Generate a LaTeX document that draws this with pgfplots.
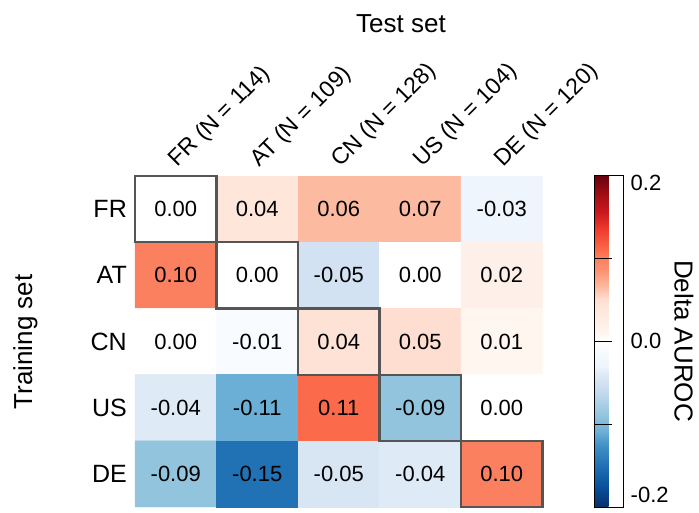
\documentclass[border=0pt]{standalone}
\usepackage{fontspec}
\setmainfont{Liberation Sans}
\usepackage{pgfplots}
\pgfplotsset{compat=1.18}
\usepackage{pgfplotstable}

% colour value of each cell (x = test set, y = training set)
\pgfplotstableread{
x y c
0 0 0
1 0 0.04
2 0 0.065
3 0 0.065
4 0 -0.03
0 1 0.10
1 1 0
2 1 -0.05
3 1 0
4 1 0.02
0 2 0
1 2 -0.01
2 2 0.045
3 2 0.05
4 2 0.01
0 3 -0.04
1 3 -0.11
2 3 0.11
3 3 -0.09
4 3 0
0 4 -0.09
1 4 -0.15
2 4 -0.045
3 4 -0.04
4 4 0.10
}\cells

\pgfplotstableread{
x y lab
0 0 0.00
1 0 0.04
2 0 0.06
3 0 0.07
4 0 -0.03
0 1 0.10
1 1 0.00
2 1 -0.05
3 1 0.00
4 1 0.02
0 2 0.00
1 2 -0.01
2 2 0.04
3 2 0.05
4 2 0.01
0 3 -0.04
1 3 -0.11
2 3 0.11
3 3 -0.09
4 3 0.00
0 4 -0.09
1 4 -0.15
2 4 -0.05
3 4 -0.04
4 4 0.10
}\labels

\begin{document}
\begin{tikzpicture}
\useasboundingbox (0,0) rectangle (699bp,513bp);
\begin{axis}[
  at={(135bp,6bp)}, anchor=south west,
  scale only axis, width=407.5bp, height=331bp,
  xmin=-0.5, xmax=4.5, ymin=-0.5, ymax=4.5, y dir=reverse,
  axis line style={draw=none},
  major tick length=0pt,
  xtick=\empty,
  ytick={0,1,2,3,4}, yticklabels={FR,AT,CN,US,DE},
  yticklabel style={font=\fontsize{25bp}{25bp}\selectfont, anchor=east, inner sep=0pt, xshift=-8bp},
  colormap={rdbu}{
    rgb255(-200)=(8,48,107)
    rgb255(-175)=(8,81,156)
    rgb255(-150)=(33,113,181)
    rgb255(-125)=(66,146,198)
    rgb255(-110)=(107,174,214)
    rgb255(-90)=(146,196,222)
    rgb255(-60)=(198,219,239)
    rgb255(-50)=(210,226,242)
    rgb255(-40)=(222,234,246)
    rgb255(-30)=(239,245,253)
    rgb255(-10)=(248,251,255)
    rgb255(0)=(255,255,255)
    rgb255(10)=(255,246,240)
    rgb255(20)=(254,240,232)
    rgb255(40)=(254,230,218)
    rgb255(50)=(254,222,208)
    rgb255(65)=(252,187,161)
    rgb255(85)=(252,146,114)
    rgb255(100)=(251,128,96)
    rgb255(110)=(251,106,74)
    rgb255(135)=(239,59,44)
    rgb255(155)=(203,24,29)
    rgb255(175)=(165,15,21)
    rgb255(200)=(103,0,13)
  },
  point meta min=-0.2, point meta max=0.2,
  colorbar,
  colorbar style={
    at={(parent axis.north east)}, anchor=north west,
    xshift=43.5bp, yshift=1bp,
    scale only axis, width=29bp, height=332bp,
    axis line style={draw=black, line width=0.9bp},
    ytick={-0.186,0,0.19}, yticklabels={-0.2,0.0,0.2},
    major tick length=0pt,
    yticklabel pos=right,
    ytick pos=left,
    extra y ticks={-0.1,0,0.1}, extra y tick labels={},
    extra y tick style={major tick length=17bp, tick align=inside, tick style={black, line width=0.9bp}},
    yticklabel style={font=\fontsize{22bp}{22bp}\selectfont, anchor=west, inner sep=0pt, xshift=7bp},
  },
  clip=false,
]
\addplot[matrix plot*, mesh/cols=5, point meta=explicit] table[x=x, y=y, meta=c] {\cells};
\addplot[draw=none, mark=none, nodes near coords, nodes near coords align={center},
  point meta=explicit symbolic,
  every node near coord/.append style={font=\fontsize{22bp}{22bp}\selectfont, inner sep=0pt}]
  table[x=x, y=y, meta=lab] {\labels};
\draw[color={rgb,255:red,85;green,85;blue,85}, line width=2.2bp] (axis cs:-0.5,-0.5) rectangle (axis cs:0.5,0.5);
\draw[color={rgb,255:red,85;green,85;blue,85}, line width=2.2bp] (axis cs:0.5,0.5) rectangle (axis cs:1.5,1.5);
\draw[color={rgb,255:red,85;green,85;blue,85}, line width=2.2bp] (axis cs:1.5,1.5) rectangle (axis cs:2.5,2.5);
\draw[color={rgb,255:red,85;green,85;blue,85}, line width=2.2bp] (axis cs:2.5,2.5) rectangle (axis cs:3.5,3.5);
\draw[color={rgb,255:red,85;green,85;blue,85}, line width=2.2bp] (axis cs:3.5,3.5) rectangle (axis cs:4.5,4.5);
\node[xshift=2bp, yshift=8bp, rotate=45, anchor=base west, inner sep=0pt, font=\fontsize{23bp}{23bp}\selectfont] at (axis cs:0,-0.5) {FR (N = 114)};
\node[xshift=2bp, yshift=8bp, rotate=45, anchor=base west, inner sep=0pt, font=\fontsize{23bp}{23bp}\selectfont] at (axis cs:1,-0.5) {AT (N = 109)};
\node[xshift=2bp, yshift=8bp, rotate=45, anchor=base west, inner sep=0pt, font=\fontsize{23bp}{23bp}\selectfont] at (axis cs:2,-0.5) {CN (N = 128)};
\node[xshift=2bp, yshift=8bp, rotate=45, anchor=base west, inner sep=0pt, font=\fontsize{23bp}{23bp}\selectfont] at (axis cs:3,-0.5) {US (N = 104)};
\node[xshift=2bp, yshift=8bp, rotate=45, anchor=base west, inner sep=0pt, font=\fontsize{23bp}{23bp}\selectfont] at (axis cs:4,-0.5) {DE (N = 120)};
\end{axis}
\node[anchor=base, inner sep=0pt, font=\fontsize{26bp}{26bp}\selectfont] at (401bp,480bp) {Test set};
\node[rotate=90, anchor=base, inner sep=0pt, font=\fontsize{26bp}{26bp}\selectfont] at (32bp,171bp) {Training set};
\node[rotate=-90, anchor=base, inner sep=0pt, font=\fontsize{26bp}{26bp}\selectfont] at (674.5bp,172bp) {Delta AUROC};
\end{tikzpicture}
\end{document}
